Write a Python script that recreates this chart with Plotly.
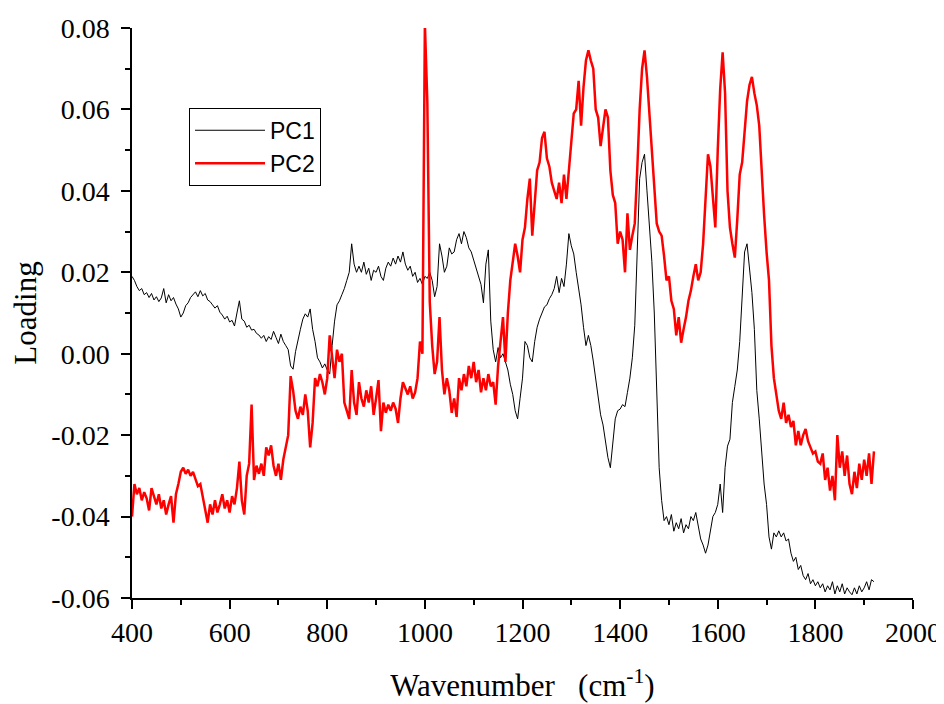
import plotly.graph_objects as go

# Wavenumber grid (cm^-1), 5 cm^-1 step
wavenumber = list(range(400, 1925, 5))

pc1 = [
    0.0190, 0.0180, 0.0165, 0.0155, 0.0160, 0.0145, 0.0150, 0.0138, 0.0148, 0.0132,
    0.0140, 0.0128, 0.0137, 0.0160, 0.0125, 0.0145, 0.0130, 0.0138, 0.0122, 0.0110,
    0.0090, 0.0100, 0.0118, 0.0125, 0.0138, 0.0145, 0.0152, 0.0140, 0.0155, 0.0142,
    0.0148, 0.0132, 0.0128, 0.0120, 0.0112, 0.0118, 0.0102, 0.0095, 0.0085, 0.0092,
    0.0078, 0.0082, 0.0068, 0.0100, 0.0130, 0.0085, 0.0080, 0.0065, 0.0070, 0.0058,
    0.0060, 0.0050, 0.0046, 0.0038, 0.0045, 0.0030, 0.0042, 0.0035, 0.0055, 0.0040,
    0.0025, 0.0048, 0.0030, 0.0020, 0.0010, -0.0030, -0.0038, 0.0005, 0.0035, 0.0060,
    0.0085, 0.0098, 0.0090, 0.0110, 0.0060, 0.0030, -0.0010, -0.0020, -0.0035, -0.0025,
    -0.0040, -0.0050, 0.0020, 0.0080, 0.0120, 0.0130, 0.0145, 0.0160, 0.0180, 0.0200,
    0.0270, 0.0220, 0.0200, 0.0215, 0.0200, 0.0225, 0.0195, 0.0210, 0.0180, 0.0205,
    0.0200, 0.0215, 0.0190, 0.0180, 0.0210, 0.0225, 0.0215, 0.0235, 0.0220, 0.0240,
    0.0225, 0.0250, 0.0220, 0.0205, 0.0215, 0.0190, 0.0200, 0.0175, 0.0185, 0.0170,
    0.0190, 0.0185, 0.0200, 0.0180, 0.0140, 0.0165, 0.0270, 0.0240, 0.0200, 0.0215,
    0.0260, 0.0245, 0.0250, 0.0280, 0.0295, 0.0270, 0.0300, 0.0285, 0.0260, 0.0250,
    0.0230, 0.0210, 0.0195, 0.0170, 0.0125, 0.0220, 0.0255, 0.0080, 0.0010, -0.0020,
    0.0015, -0.0010, 0.0000, -0.0020, -0.0040, -0.0075, -0.0100, -0.0140, -0.0160, -0.0110,
    -0.0060, 0.0030, 0.0020, -0.0010, -0.0020, 0.0030, 0.0065, 0.0085, 0.0100, 0.0115,
    0.0120, 0.0135, 0.0145, 0.0160, 0.0190, 0.0150, 0.0185, 0.0165, 0.0220, 0.0295,
    0.0265, 0.0245, 0.0200, 0.0160, 0.0120, 0.0065, 0.0020, 0.0045, 0.0020, -0.0018,
    -0.0060, -0.0110, -0.0150, -0.0175, -0.0215, -0.0255, -0.0280, -0.0220, -0.0160, -0.0140,
    -0.0136, -0.0125, -0.0130, -0.0095, -0.0060, -0.0010, 0.0070, 0.0250, 0.0430, 0.0470,
    0.0490, 0.0400, 0.0310, 0.0227, 0.0100, -0.0080, -0.0280, -0.0360, -0.0410, -0.0400,
    -0.0420, -0.0395, -0.0436, -0.0415, -0.0430, -0.0405, -0.0440, -0.0420, -0.0430, -0.0400,
    -0.0410, -0.0390, -0.0420, -0.0455, -0.0470, -0.0490, -0.0470, -0.0436, -0.0400, -0.0390,
    -0.0370, -0.0320, -0.0390, -0.0280, -0.0227, -0.0210, -0.0120, -0.0080, -0.0040, 0.0030,
    0.0150, 0.0250, 0.0270, 0.0210, 0.0150, 0.0060, -0.0090, -0.0160, -0.0240, -0.0320,
    -0.0370, -0.0450, -0.0480, -0.0440, -0.0450, -0.0435, -0.0450, -0.0440, -0.0460, -0.0455,
    -0.0490, -0.0510, -0.0500, -0.0530, -0.0520, -0.0545, -0.0555, -0.0540, -0.0565, -0.0555,
    -0.0570, -0.0560, -0.0575, -0.0565, -0.0585, -0.0570, -0.0580, -0.0560, -0.0590, -0.0570,
    -0.0585, -0.0565, -0.0590, -0.0575, -0.0585, -0.0592, -0.0575, -0.0590, -0.0570, -0.0585,
    -0.0575, -0.0560, -0.0580, -0.0555, -0.0560,
]

pc2 = [
    -0.0400, -0.0320, -0.0345, -0.0330, -0.0360, -0.0340, -0.0355, -0.0385, -0.0330, -0.0350,
    -0.0370, -0.0345, -0.0380, -0.0360, -0.0395, -0.0370, -0.0350, -0.0415, -0.0345, -0.0320,
    -0.0290, -0.0280, -0.0295, -0.0285, -0.0300, -0.0290, -0.0310, -0.0325, -0.0320, -0.0350,
    -0.0380, -0.0415, -0.0370, -0.0395, -0.0360, -0.0390, -0.0370, -0.0345, -0.0380, -0.0360,
    -0.0390, -0.0350, -0.0370, -0.0330, -0.0265, -0.0360, -0.0395, -0.0300, -0.0270, -0.0125,
    -0.0310, -0.0275, -0.0295, -0.0270, -0.0300, -0.0230, -0.0250, -0.0225, -0.0275, -0.0300,
    -0.0270, -0.0310, -0.0260, -0.0230, -0.0200, -0.0055, -0.0090, -0.0140, -0.0160, -0.0130,
    -0.0150, -0.0100, -0.0140, -0.0230, -0.0170, -0.0060, -0.0080, -0.0050, -0.0070, -0.0100,
    -0.0060, 0.0045, -0.0010, -0.0060, 0.0010, -0.0020, 0.0000, -0.0120, -0.0140, -0.0160,
    -0.0040, -0.0120, -0.0150, -0.0070, -0.0110, -0.0130, -0.0090, -0.0120, -0.0080, -0.0150,
    -0.0110, -0.0065, -0.0190, -0.0120, -0.0145, -0.0125, -0.0140, -0.0120, -0.0135, -0.0170,
    -0.0110, -0.0070, -0.0085, -0.0100, -0.0080, -0.0110, -0.0095, -0.0060, 0.0030, 0.0000,
    0.0810, 0.0620, 0.0127, 0.0020, -0.0050, -0.0020, 0.0090, -0.0040, -0.0100, -0.0060,
    -0.0090, -0.0145, -0.0110, -0.0155, -0.0060, -0.0090, -0.0050, -0.0080, -0.0030, -0.0060,
    -0.0020, -0.0070, -0.0040, -0.0095, -0.0060, -0.0090, -0.0050, -0.0080, -0.0070, -0.0125,
    -0.0030, 0.0030, 0.0090, -0.0020, 0.0100, 0.0180, 0.0220, 0.0270, 0.0240, 0.0200,
    0.0280, 0.0310, 0.0380, 0.0430, 0.0290, 0.0360, 0.0450, 0.0470, 0.0530, 0.0545,
    0.0480, 0.0460, 0.0420, 0.0400, 0.0380, 0.0420, 0.0370, 0.0440, 0.0380, 0.0450,
    0.0530, 0.0590, 0.0600, 0.0670, 0.0560, 0.0655, 0.0720, 0.0745, 0.0720, 0.0700,
    0.0600, 0.0580, 0.0510, 0.0560, 0.0600, 0.0580, 0.0450, 0.0390, 0.0370, 0.0270,
    0.0300, 0.0280, 0.0200, 0.0345, 0.0255, 0.0290, 0.0320, 0.0450, 0.0600, 0.0700,
    0.0745, 0.0680, 0.0590, 0.0500, 0.0420, 0.0320, 0.0300, 0.0290, 0.0240, 0.0180,
    0.0190, 0.0130, 0.0110, 0.0045, 0.0090, 0.0027, 0.0060, 0.0090, 0.0130, 0.0155,
    0.0190, 0.0220, 0.0180, 0.0200, 0.0270, 0.0400, 0.0490, 0.0460, 0.0380, 0.0310,
    0.0500, 0.0650, 0.0740, 0.0640, 0.0400, 0.0310, 0.0270, 0.0236, 0.0330, 0.0440,
    0.0470, 0.0550, 0.0620, 0.0660, 0.0680, 0.0640, 0.0610, 0.0560, 0.0430, 0.0340,
    0.0250, 0.0180, 0.0020, -0.0060, -0.0100, -0.0140, -0.0160, -0.0120, -0.0170, -0.0150,
    -0.0180, -0.0165, -0.0225, -0.0190, -0.0225, -0.0200, -0.0185, -0.0215, -0.0230, -0.0245,
    -0.0240, -0.0265, -0.0270, -0.0245, -0.0310, -0.0280, -0.0336, -0.0300, -0.0360, -0.0200,
    -0.0280, -0.0240, -0.0300, -0.0250, -0.0320, -0.0345, -0.0290, -0.0330, -0.0270, -0.0310,
    -0.0260, -0.0300, -0.0245, -0.0320, -0.0240,
]

series_names = ["PC1", "PC2"]
x_tick_vals = [400, 600, 800, 1000, 1200, 1400, 1600, 1800, 2000]
x_tick_text = ["400", "600", "800", "1000", "1200", "1400", "1600", "1800", "2000"]
y_tick_vals = [0.08, 0.06, 0.04, 0.02, 0.00, -0.02, -0.04, -0.06]
y_tick_text = ["0.08", "0.06", "0.04", "0.02", "0.00", "-0.02", "-0.04", "-0.06"]

serif = "Liberation Serif"
sans = "Liberation Sans"

fig = go.Figure()
fig.add_trace(go.Scatter(x=wavenumber, y=pc1, mode="lines", name=series_names[0],
                         line=dict(color="black", width=1)))
fig.add_trace(go.Scatter(x=wavenumber, y=pc2, mode="lines", name=series_names[1],
                         line=dict(color="#ff0000", width=2.5)))

fig.update_xaxes(
    range=[400, 2000], tickmode="array", tickvals=x_tick_vals, ticktext=x_tick_text,
    showline=True, linecolor="black", linewidth=1.5,
    ticks="outside", ticklen=9, tickwidth=1.5, tickcolor="black",
    showgrid=False, zeroline=False,
    tickfont_family=serif, tickfont_size=28, tickfont_color="black",
    minor=dict(dtick=100, tick0=400, ticks="outside", ticklen=5, tickwidth=1.5,
               tickcolor="black", showgrid=False),
    title=dict(text="Wavenumber &nbsp; (cm<sup>-1</sup>)",
               font=dict(family=serif, size=31, color="black"), standoff=27),
    ticklabelstandoff=0,
)
fig.update_yaxes(
    range=[-0.06, 0.08], tickmode="array", tickvals=y_tick_vals, ticktext=y_tick_text,
    showline=True, linecolor="black", linewidth=1.5,
    ticks="outside", ticklen=9, tickwidth=1.5, tickcolor="black",
    showgrid=False, zeroline=False,
    tickfont_family=serif, tickfont_size=28, tickfont_color="black",
    minor=dict(dtick=0.01, tick0=0, ticks="outside", ticklen=5, tickwidth=1.5,
               tickcolor="black", showgrid=False),
    title=dict(text="Loading", font=dict(family=serif, size=31, color="black"),
               standoff=10),
    ticklabelstandoff=6,
)

# page has an 8px body margin: figure sized so plot lands where the reference has it
fig.update_layout(
    width=936, height=696,
    margin=dict(l=124, r=31, t=20, b=106, autoexpand=False),
    font=dict(family=serif, size=28, color="black"),
    paper_bgcolor="white", plot_bgcolor="white",
    showlegend=True,
    legend=dict(
        x=0.073, y=0.86, xanchor="left", yanchor="top",
        bgcolor="white", bordercolor="black", borderwidth=1,
        font=dict(family=sans, size=23, color="black"),
        itemwidth=70, tracegroupgap=0,
    ),
)

fig.write_html("out.html")
